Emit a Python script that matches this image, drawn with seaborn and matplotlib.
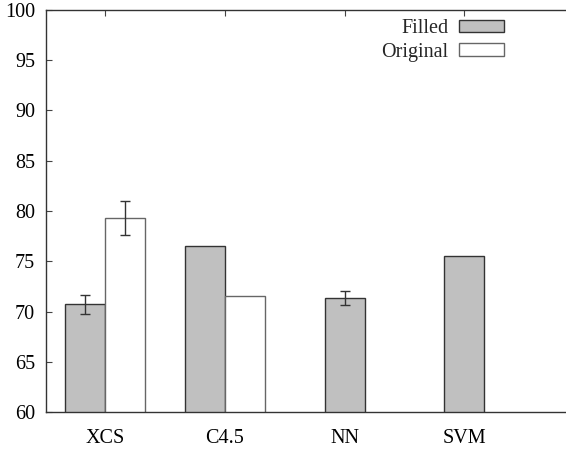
import matplotlib
matplotlib.use("Agg")
import matplotlib.pyplot as plt
from matplotlib.patches import Patch
import numpy as np
import pandas as pd
import seaborn as sns

# values
classifiers = ['XCS', 'C4.5', 'NN', 'SVM']
filled = [70.7, 76.5, 71.3, 75.5]
filled_err = [0.9, np.nan, 0.7, np.nan]
original = [79.3, 71.5, np.nan, np.nan]
original_err = [1.7, np.nan, np.nan, np.nan]
series = ['Filled', 'Original']

sns.set_style("ticks")
plt.rcParams['font.family'] = ['Liberation Serif', 'DejaVu Serif']
plt.rcParams['font.size'] = 14.5

df = pd.DataFrame({
    'classifier': classifiers * 2,
    'series': ['Filled'] * 4 + ['Original'] * 4,
    'value': filled + original,
})

fig = plt.figure(figsize=(5.66, 4.5), dpi=100)
ax = fig.add_axes([0.0813, 0.0844, 0.93, 0.8935])

palette = {'Filled': '#c0c0c0', 'Original': '#ffffff'}
ax = sns.barplot(data=df.dropna(subset=['value']), x='classifier', y='value', hue='series',
                 order=classifiers, hue_order=series, palette=palette, width=0.667,
                 dodge=True, errorbar=None, legend=False, ax=ax)

# seaborn leaves a gap where a series is missing; centre single bars on their tick
edges = {'Filled': '#333333', 'Original': '#666666'}
for name, cont in zip(series, ax.containers):
    for bar in cont:
        bar.set_edgecolor(edges[name])
        bar.set_linewidth(1.0)
for i, cls in enumerate(classifiers):
    if np.isnan(original[i]):
        for bar in ax.containers[0]:
            cx = bar.get_x() + bar.get_width() / 2
            if abs(cx - (i - 0.1667)) < 0.05:
                bar.set_x(i - bar.get_width() / 2)

# error bars on top of the bars
for name, vals, errs, cont in zip(series, [filled, original], [filled_err, original_err], ax.containers):
    for bar in cont:
        cx = bar.get_x() + bar.get_width() / 2
        idx = int(round(cx))
        if not np.isnan(errs[idx]):
            ax.errorbar(cx, vals[idx], yerr=errs[idx], fmt='none', ecolor='#333333',
                        elinewidth=1.0, capsize=3.5, capthick=1.0)

ax.set_ylim(60, 100)
ax.set_yticks(np.arange(60, 101, 5))
ax.set_xlim(-0.49, 3.90)
ax.set_xlabel('')
ax.set_ylabel('')
ax.tick_params(axis='both', direction='in', length=4, width=0.8, colors='#444444',
               labelcolor='black', top=True, right=True, labelsize=14.5)
ax.tick_params(axis='x', pad=12.5)
ax.tick_params(axis='y', pad=8)
for s in ax.spines.values():
    s.set_color('#333333')
    s.set_linewidth(1.0)

handles = [Patch(facecolor=palette[s], edgecolor=edges[s], linewidth=1.0) for s in series]
ax.legend(handles, series, loc='upper right', bbox_to_anchor=(0.871, 0.977), frameon=False,
          markerfirst=False, handlelength=2.25, handleheight=0.55, handletextpad=0.55,
          labelspacing=0.22, borderpad=0, borderaxespad=0, fontsize=14.5)

fig.savefig('out.png', dpi=100)
